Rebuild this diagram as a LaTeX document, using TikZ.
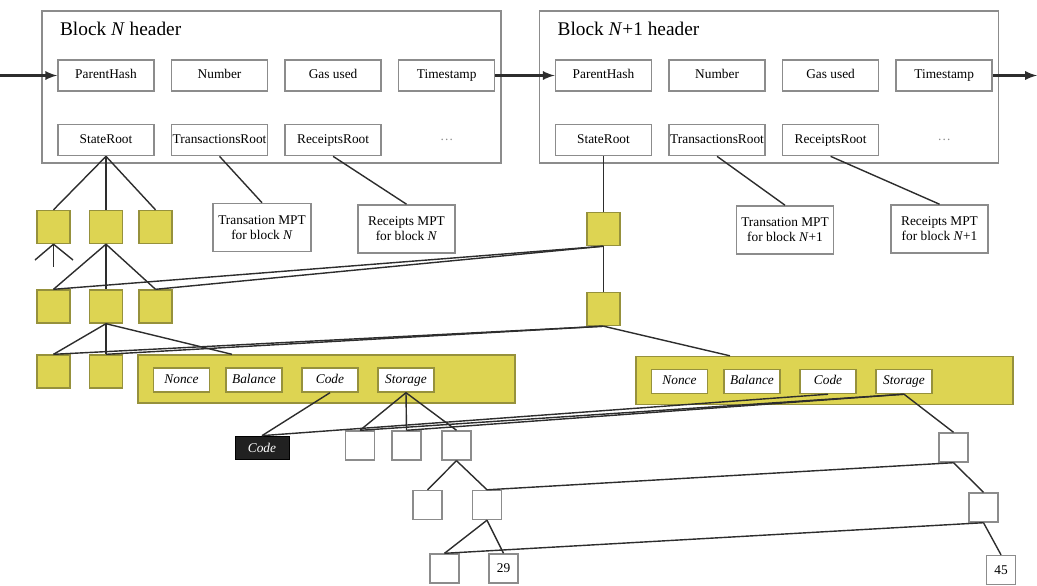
\documentclass[tikz,border=0pt]{standalone}
\usepackage{fontspec}
\setmainfont{Liberation Serif}
\usetikzlibrary{arrows,positioning,calc}

\definecolor{trieyellow}{RGB}{221,212,82}
\definecolor{trieedge}{RGB}{150,145,60}
\definecolor{boxgray}{RGB}{140,140,140}
\definecolor{linegray}{RGB}{45,45,45}

\begin{document}
\begin{tikzpicture}[x=0.02cm, y=-0.02cm]
\tikzset{header/.style={rectangle, draw=boxgray, line width=0.9pt, minimum width=9.18cm, minimum height=3.04cm}}
\tikzset{title/.style={anchor=west, inner sep=1pt, font=\fontsize{11}{13}\selectfont}}
\tikzset{field/.style={rectangle, draw=boxgray, line width=0.9pt, minimum width=1.92cm, minimum height=0.62cm, inner sep=0pt, text height=5.4pt, text depth=1.6pt, font=\fontsize{7.6}{9}\selectfont}}
\tikzset{more/.style={text=boxgray, font=\fontsize{7.6}{9}\selectfont}}
\tikzset{mpt/.style={rectangle, draw=boxgray, line width=0.9pt, minimum width=1.94cm, minimum height=0.96cm, inner sep=0pt, align=center, font=\fontsize{7.6}{8.6}\selectfont}}
\tikzset{account/.style={rectangle, draw=trieedge, line width=0.8pt, fill=trieyellow, minimum width=7.54cm, minimum height=0.96cm}}
\tikzset{afield/.style={rectangle, draw=trieedge, line width=0.8pt, fill=white, minimum width=1.12cm, minimum height=0.48cm, inner sep=0pt, text height=5.4pt, text depth=1.6pt, font=\fontsize{7.6}{9}\selectfont\itshape}}
\tikzset{ynode/.style={rectangle, draw=trieedge, line width=0.8pt, fill=trieyellow, minimum size=0.66cm}}
\tikzset{wnode/.style={rectangle, draw=boxgray, line width=0.8pt, fill=white, minimum size=0.58cm, inner sep=0pt, font=\fontsize{7.6}{9}\selectfont}}
\tikzset{blk/.style={rectangle, draw=black, fill=black!87, text=white, minimum width=1.08cm, minimum height=0.46cm, inner sep=0pt, font=\fontsize{7.6}{9}\selectfont\itshape}}
\tikzset{link/.style={draw=linegray, line width=0.8pt}}
\tikzset{flow/.style={draw=linegray, line width=1.3pt, -latex}}

\newcommand{\drawheader}[3]{
\begin{scope}[shift={(#1,0)}]
\node[header] (#3box) at (271.5,87) {};
\node[title] (#3title) at (58,29) {#2};
\node[field] (#3ph) at (106,75.5) {ParentHash};
\node[field, right=0.32cm of #3ph] (#3num) {Number};
\node[field, right=0.32cm of #3num] (#3gas) {Gas used};
\node[field, right=0.32cm of #3gas] (#3time) {Timestamp};
\node[field, below=0.64cm of #3ph] (#3state) {StateRoot};
\node[field, below=0.64cm of #3num] (#3tx) {TransactionsRoot};
\node[field, below=0.64cm of #3gas] (#3rc) {ReceiptsRoot};
\node[more, below=0.64cm of #3time, minimum height=0.62cm] (#3more) {\ldots};
\end{scope}
}

\newcommand{\drawaccount}[3]{
\begin{scope}[shift={(#1,#2)}]
\node[account] (#3acc) at (326.5,379) {};
\node[afield] (#3nonce) at (181.5,380) {Nonce};
\node[afield] (#3bal) at (254,380) {Balance};
\node[afield] (#3code) at (330,380) {Code};
\node[afield] (#3stor) at (406,380) {Storage};
\coordinate (#3in) at ($(#3acc.north west)!0.25!(#3acc.north east)$);
\end{scope}
}

\useasboundingbox (0,0) rectangle (1037,585);

\drawheader{0}{Block \textit{N} header}{hN}
\drawheader{497.5}{Block \textit{N}+1 header}{hM}

\coordinate (inL) at (0,75.5);
\coordinate (outR) at (1037,75.5);
\draw[flow] (inL) -- (hNph);
\draw[flow] (hNtime) -- (hMph);
\draw[flow] (hMtime) -- (outR);

\node[mpt, minimum width=1.96cm] (mptNtx) at (262,227.5) {Transation MPT\\for block \textit{N}};
\node[mpt] (mptNrc) at (406.5,229) {Receipts MPT\\for block \textit{N}};
\node[mpt] (mptMtx) at (785,230) {Transation MPT\\for block \textit{N}+1};
\node[mpt] (mptMrc) at (939.5,229) {Receipts MPT\\for block \textit{N}+1};
\draw[link] (hNtx.south) -- (mptNtx.north);
\draw[link] (hNrc.south) -- (mptNrc.north);
\draw[link] (hMtx.south) -- (mptMtx.north);
\draw[link] (hMrc.south) -- (mptMrc.north);

% state trie, block N
\node[ynode] (sA1) at (53.5,227) {};
\node[ynode] (sA2) at (106,227) {};
\node[ynode] (sA3) at (155.5,227) {};
\node[ynode] (sB1) at (53.5,306.5) {};
\node[ynode] (sB2) at (106,306.5) {};
\node[ynode] (sB3) at (155.5,306.5) {};
\node[ynode] (sC1) at (53.5,371.5) {};
\node[ynode] (sC2) at (106,371.5) {};
\coordinate (fkL) at (35,260);
\coordinate (fkM) at (53.5,267);
\coordinate (fkR) at (73,260);

% state trie, block N+1
\node[ynode] (tA) at (603.5,229) {};
\node[ynode] (tB) at (603.5,309) {};

\drawaccount{0}{0}{aN}
\drawaccount{498}{1.5}{aM}

\draw[link] (hNstate.south) -- (sA1.north);
\draw[link] (hNstate.south) -- (sA2.north);
\draw[link] (hNstate.south) -- (sA3.north);
\draw[link] (sA1.south) -- (fkL);
\draw[link] (sA1.south) -- (fkM);
\draw[link] (sA1.south) -- (fkR);
\draw[link] (sA2.south) -- (sB1.north);
\draw[link] (sA2.south) -- (sB2.north);
\draw[link] (sA2.south) -- (sB3.north);
\draw[link] (sB2.south) -- (sC1.north);
\draw[link] (sB2.south) -- (sC2.north);
\draw[link] (sB2.south) -- (aNin);

\draw[link] (hMstate.south) -- (tA.north);
\draw[link] (tA.south) -- (tB.north);
\draw[link] (tA.south) -- (sB1.north);
\draw[link] (tA.south) -- (sB3.north);
\draw[link] (tB.south) -- (sC1.north);
\draw[link] (tB.south) -- (sC2.north);
\draw[link] (tB.south) -- (aMin);

% code and storage
\node[blk] (code) at (262,447.5) {Code};
\node[wnode] (stA1) at (360,445.5) {};
\node[wnode] (stA2) at (406.5,445.5) {};
\node[wnode] (stA3) at (456.5,445.5) {};
\node[wnode] (stB1) at (427.5,505) {};
\node[wnode] (stB2) at (487,505) {};
\node[wnode] (stC1) at (444.5,568.5) {};
\node[wnode] (stC2) at (503.5,568.5) {29};
\node[wnode] (utA) at (953.5,447.5) {};
\node[wnode] (utB) at (983.5,507.5) {};
\node[wnode] (utC) at (1001,570) {45};

\draw[link] (aNcode.south) -- (code.north);
\draw[link] (aMcode.south) -- (code.north);
\draw[link] (aNstor.south) -- (stA1.north);
\draw[link] (aNstor.south) -- (stA2.north);
\draw[link] (aNstor.south) -- (stA3.north);
\draw[link] (aMstor.south) -- (stA1.north);
\draw[link] (aMstor.south) -- (stA2.north);
\draw[link] (aMstor.south) -- (utA.north);
\draw[link] (stA3.south) -- (stB1.north);
\draw[link] (stA3.south) -- (stB2.north);
\draw[link] (utA.south) -- (utB.north);
\draw[link] (utA.south) -- (stB2.north);
\draw[link] (stB2.south) -- (stC1.north);
\draw[link] (stB2.south) -- (stC2.north);
\draw[link] (utB.south) -- (utC.north);
\draw[link] (utB.south) -- (stC1.north);
\end{tikzpicture}
\end{document}
